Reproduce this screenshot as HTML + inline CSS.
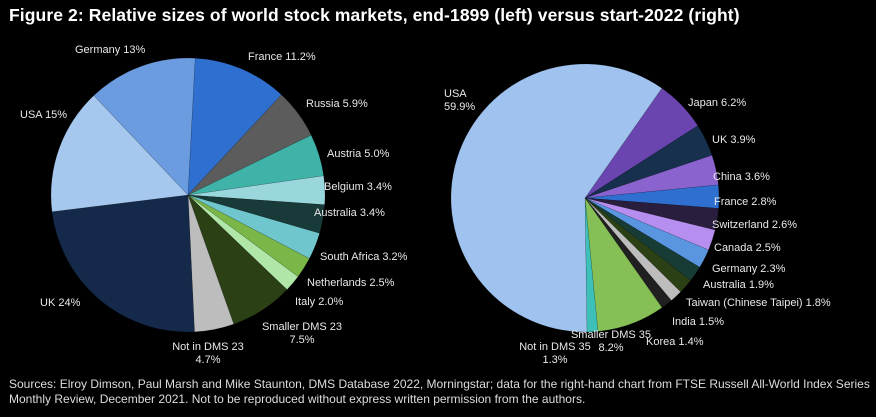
<!DOCTYPE html>
<html><head><meta charset="utf-8">
<style>
html,body{margin:0;padding:0;background:#000;}
body{width:876px;height:417px;overflow:hidden;position:relative;font-family:"Liberation Sans",Arial,sans-serif;}
#title{position:absolute;left:9px;top:5px;color:#fff;font-weight:bold;font-size:17.5px;letter-spacing:0.1px;white-space:nowrap;}
#src{position:absolute;left:9px;top:377px;color:#ddd;font-size:12px;line-height:14.5px;white-space:nowrap;}
svg{position:absolute;left:0;top:0;}
svg text{font-family:"Liberation Sans",Arial,sans-serif;font-size:11px;fill:#e8e8e8;}
</style></head>
<body>
<div id="title">Figure 2: Relative sizes of world stock markets, end-1899 (left) versus start-2022 (right)</div>
<svg id="chart" width="876" height="417"></svg>
<div id="src">Sources: Elroy Dimson, Paul Marsh and Mike Staunton, DMS Database 2022, Morningstar; data for the right-hand chart from FTSE Russell All-World Index Series<br>Monthly Review, December 2021. Not to be reproduced without express written permission from the authors.</div>
<script>
const leftCats = ["France","Russia","Austria","Belgium","Australia","South Africa","Netherlands","Italy","Smaller DMS 23","Not in DMS 23","UK","USA","Germany"];
const leftVals = [11.2,5.9,5.0,3.4,3.4,3.2,2.5,2.0,7.5,4.7,24,15,13];
const leftLabels = ["France 11.2%","Russia 5.9%","Austria 5.0%","Belgium 3.4%","Australia 3.4%","South Africa 3.2%","Netherlands 2.5%","Italy 2.0%","Smaller DMS 23|7.5%","Not in DMS 23|4.7%","UK 24%","USA 15%","Germany 13%"];
const leftColors = ["#2f6fd0","#5c5c5c","#3fb3a8","#9ad7dd","#183a38","#6fc6cc","#7ab648","#b0e6a8","#2c4016","#bdbdbd","#152a4a","#a6c8ee","#6c9ce0"];
const rightCats = ["Japan","UK","China","France","Switzerland","Canada","Germany","Australia","Taiwan","India","Korea","Smaller DMS 35","Not in DMS 35","USA"];
const rightVals = [6.2,3.9,3.6,2.8,2.6,2.5,2.3,1.9,1.8,1.5,1.4,8.2,1.3,59.9];
const rightLabels = ["Japan 6.2%","UK 3.9%","China 3.6%","France 2.8%","Switzerland 2.6%","Canada 2.5%","Germany 2.3%","Australia 1.9%","Taiwan (Chinese Taipei) 1.8%","India 1.5%","Korea 1.4%","Smaller DMS 35|8.2%","Not in DMS 35|1.3%","USA|59.9%"];
const rightColors = ["#6a45b0","#16304e","#8a63cf","#2f6fd0","#2a1e3e","#b58ef0","#5a95e0","#173c36","#2c4016","#bdbdbd","#202020","#86bf55","#3cc0b8","#9fc3ee"];

const leftLabelPos = [[248,60,"start"],[306,107,"start"],[327,157,"start"],[324,190,"start"],[314,216,"start"],[320,260,"start"],[307,286,"start"],[295,305,"start"],[302,330,"middle"],[208,350,"middle"],[40,306,"start"],[20,118,"start"],[75,53,"start"]];
const rightLabelPos = [[688,106,"start"],[712,143,"start"],[713,180,"start"],[714,205,"start"],[712,228,"start"],[714,251,"start"],[712,272,"start"],[703,288,"start"],[686,306,"start"],[672,325,"start"],[646,345,"start"],[611,338,"middle"],[555,350,"middle"],[444,97,"start"]];

const NS="http://www.w3.org/2000/svg";
const svg=document.getElementById('chart');
function pie(cx,cy,r,start,vals,colors,cats,labels,lpos,prefix){
  const total=vals.reduce((a,b)=>a+b,0);
  let a=start*Math.PI/180;
  vals.forEach((v,i)=>{
    const da=v/total*2*Math.PI;
    const x1=cx+r*Math.sin(a),y1=cy-r*Math.cos(a);
    const x2=cx+r*Math.sin(a+da),y2=cy-r*Math.cos(a+da);
    const p=document.createElementNS(NS,'path');
    p.setAttribute('d',`M${cx},${cy}L${x1},${y1}A${r},${r} 0 ${da>Math.PI?1:0} 1 ${x2},${y2}Z`);
    p.setAttribute('fill',colors[i]);
    p.setAttribute('stroke','rgba(0,0,0,0.25)');
    p.setAttribute('stroke-width','0.5');
    
    
    svg.appendChild(p);
    a+=da;
  });
  labels.forEach((l,i)=>{
    const t=document.createElementNS(NS,'text');
    const [x,y,anc]=lpos[i];
    t.setAttribute('x',x);t.setAttribute('y',y);t.setAttribute('text-anchor',anc);
    const parts=l.split('|');
    parts.forEach((s,k)=>{
      const ts=document.createElementNS(NS,'tspan');
      ts.setAttribute('x',x);ts.setAttribute('dy',k?13:0);ts.textContent=s;t.appendChild(ts);
    });
    
    
    svg.appendChild(t);
  });
}
pie(188,195,137,3,leftVals,leftColors,leftCats,leftLabels,leftLabelPos,'left');
pie(585,198,134,35,rightVals,rightColors,rightCats,rightLabels,rightLabelPos,'right');
</script>
</body></html>
